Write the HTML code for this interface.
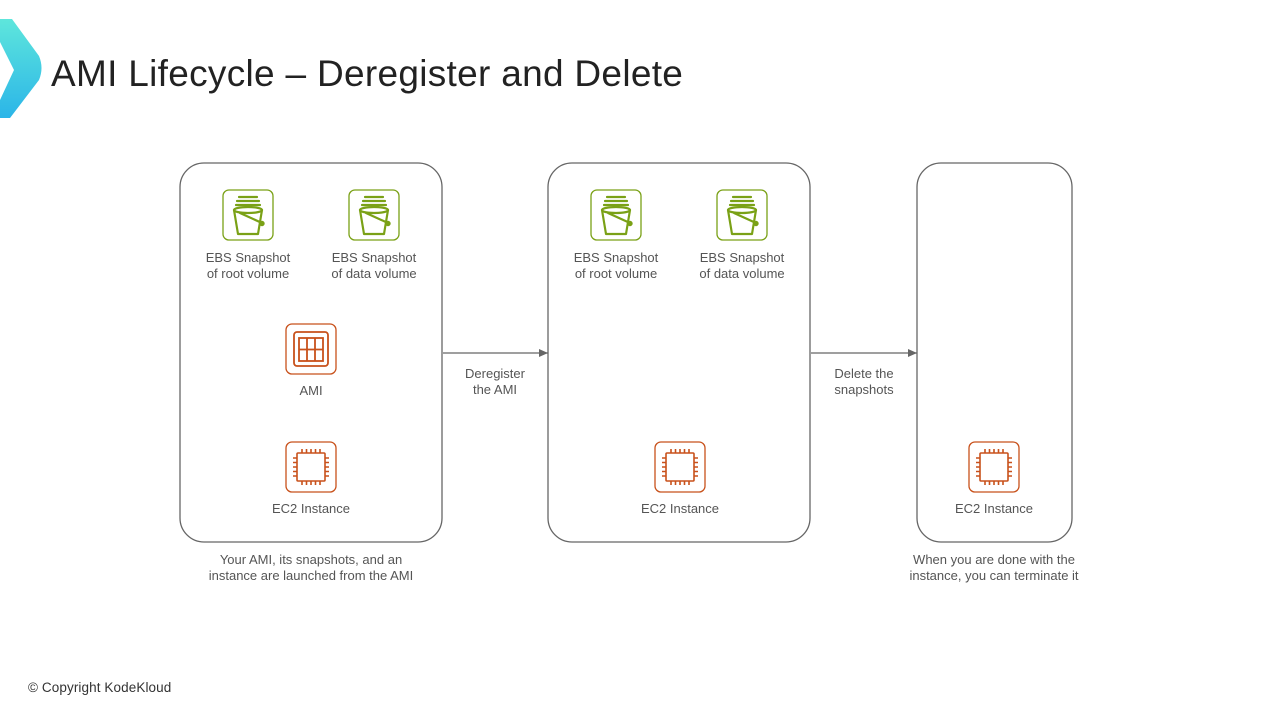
<!DOCTYPE html>
<html><head><meta charset="utf-8"><style>
html,body{margin:0;padding:0;background:#fff;}
svg{display:block;}
text{font-family:"Liberation Sans","DejaVu Sans",sans-serif;}
</style></head><body>
<svg width="1280" height="720" viewBox="0 0 1280 720" xmlns="http://www.w3.org/2000/svg">
<defs>
<linearGradient id="lg" x1="0" y1="0" x2="0" y2="1">
<stop offset="0" stop-color="#5ee6dc"/><stop offset="1" stop-color="#2bb5e8"/>
</linearGradient>
<g id="snap">
<rect x="-25" y="-25" width="50" height="50" rx="6" fill="#fff" stroke="#7aa116" stroke-width="1.3"/>
<g fill="none" stroke="#7aa116" stroke-width="2.2" stroke-linejoin="round" stroke-linecap="round">
<path d="M-9,-18 h18 M-11,-14 h22 M-12,-10 h24"/>
<ellipse cx="0" cy="-5" rx="14" ry="3"/>
<path d="M-14,-5 L-10,19 H10 L14,-5"/>
<path d="M-8,-2 L14,8"/>
<circle cx="14" cy="8.5" r="1.6" fill="#7aa116"/>
</g>
</g>
<g id="ec2">
<rect x="-25" y="-25" width="50" height="50" rx="6" fill="#fff" stroke="#c8511b" stroke-width="1.3"/>
<g fill="none" stroke="#c8511b" stroke-width="1.6">
<rect x="-14" y="-14" width="28" height="28" rx="1"/>
<path d="M-9,-14v-4 M-4.5,-14v-4 M0,-14v-4 M4.5,-14v-4 M9,-14v-4 M-9,14v4 M-4.5,14v4 M0,14v4 M4.5,14v4 M9,14v4 M-14,-9h-4 M-14,-4.5h-4 M-14,0h-4 M-14,4.5h-4 M-14,9h-4 M14,-9h4 M14,-4.5h4 M14,0h4 M14,4.5h4 M14,9h4"/>
</g>
</g>
<g id="ami">
<rect x="-25" y="-25" width="50" height="50" rx="6" fill="#fff" stroke="#c8511b" stroke-width="1.3"/>
<g fill="none" stroke="#c8511b" stroke-width="1.8">
<rect x="-17" y="-17" width="34" height="34" rx="3"/>
<rect x="-12" y="-11" width="24" height="23"/>
<path d="M-12,0.5h24 M-4,-11v23 M4,-11v23"/>
</g>
</g>
<marker id="ah" markerWidth="10" markerHeight="8" refX="9" refY="4" orient="auto" markerUnits="userSpaceOnUse">
<path d="M0,0 L9,4 L0,8z" fill="#666"/>
</marker>
</defs>

<path d="M0,19 L12,19 L39,56 Q44,68 39,80 L10,118 L0,118 L0,100 L14,70 L0,42 Z" fill="url(#lg)"/>
<text x="51" y="86" font-size="37" letter-spacing="0.3" fill="#222">AMI Lifecycle – Deregister and Delete</text>

<g fill="none" stroke="#666" stroke-width="1.3">
<rect x="180" y="163" width="262" height="379" rx="24"/>
<rect x="548" y="163" width="262" height="379" rx="24"/>
<rect x="917" y="163" width="155" height="379" rx="24"/>
<path d="M443,353 H548" marker-end="url(#ah)"/>
<path d="M811,353 H917" marker-end="url(#ah)"/>
</g>

<use href="#snap" x="248" y="215"/>
<use href="#snap" x="374" y="215"/>
<use href="#snap" x="616" y="215"/>
<use href="#snap" x="742" y="215"/>
<use href="#ami" x="311" y="349"/>
<use href="#ec2" x="311" y="467"/>
<use href="#ec2" x="680" y="467"/>
<use href="#ec2" x="994" y="467"/>

<g font-size="13" fill="#555" text-anchor="middle">
<text x="248" y="262">EBS Snapshot</text><text x="248" y="278">of root volume</text>
<text x="374" y="262">EBS Snapshot</text><text x="374" y="278">of data volume</text>
<text x="616" y="262">EBS Snapshot</text><text x="616" y="278">of root volume</text>
<text x="742" y="262">EBS Snapshot</text><text x="742" y="278">of data volume</text>
<text x="311" y="395">AMI</text>
<text x="311" y="513">EC2 Instance</text>
<text x="680" y="513">EC2 Instance</text>
<text x="994" y="513">EC2 Instance</text>
<text x="495" y="378">Deregister</text><text x="495" y="394">the AMI</text>
<text x="864" y="378">Delete the</text><text x="864" y="394">snapshots</text>
<text x="311" y="564">Your AMI, its snapshots, and an</text>
<text x="311" y="580">instance are launched from the AMI</text>
<text x="994" y="564">When you are done with the</text>
<text x="994" y="580">instance, you can terminate it</text>
</g>
<text x="28" y="692" font-size="13.5" letter-spacing="0.1" fill="#333">© Copyright KodeKloud</text>
</svg>
</body></html>
